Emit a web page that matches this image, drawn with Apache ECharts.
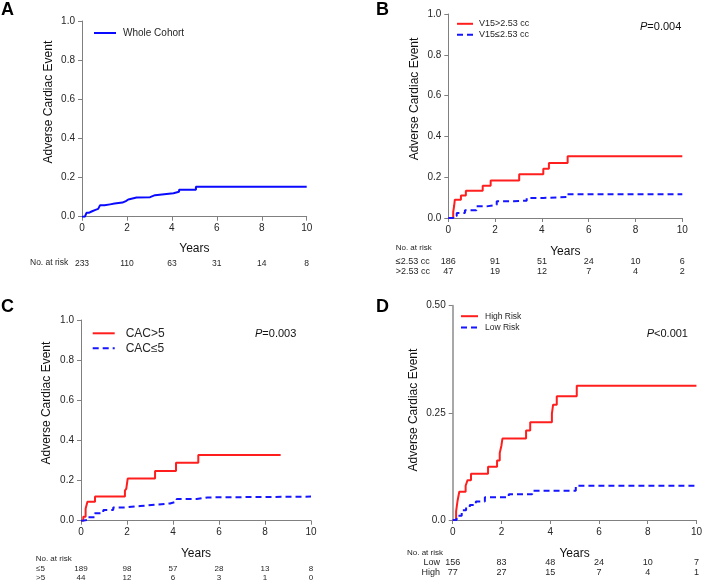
<!DOCTYPE html>
<html>
<head>
<meta charset="utf-8">
<script src="https://cdn.jsdelivr.net/npm/echarts@6/dist/echarts.min.js"></script>
<style>html,body{margin:0;padding:0;background:#fff;}#c{width:705px;height:582px;}</style>
</head>
<body>
<div id="c"></div>
<script>
// ---- data ----
const xTicks = [0, 2, 4, 6, 8, 10];
const wholeCohort = [[0,0],[0.13,0.008],[0.2,0.02],[0.3,0.028],[0.45,0.035],[0.6,0.04],[0.72,0.05],[0.8,0.058],[1.0,0.063],[1.25,0.067],[1.45,0.072],[1.8,0.08],[1.95,0.088],[2.06,0.098],[2.43,0.1],[3.03,0.11],[3.25,0.12],[4.07,0.127],[4.32,0.138],[5.07,0.153],[10,0.153]];
const v15High = [[0,0],[0.21,0.03],[0.25,0.06],[0.28,0.09],[0.54,0.11],[0.75,0.134],[1.47,0.158],[1.81,0.184],[3.03,0.214],[4.06,0.241],[4.3,0.27],[5.1,0.303],[10,0.303]];
const v15Low = [[0,0],[0.21,0.01],[0.36,0.024],[0.71,0.038],[1.2,0.057],[1.64,0.065],[2.07,0.082],[2.78,0.085],[3.35,0.098],[4.06,0.103],[5.06,0.117],[10,0.117]];
const cacHigh = [[0,0],[0.1,0.02],[0.2,0.06],[0.28,0.095],[0.61,0.12],[1.91,0.15],[1.97,0.16],[2.03,0.21],[3.22,0.248],[4.13,0.289],[5.1,0.327],[8.68,0.327]];
const cacLow = [[0,0],[0.1,0.005],[0.3,0.017],[0.6,0.037],[0.97,0.053],[1.4,0.066],[1.9,0.073],[2.57,0.078],[3.07,0.086],[3.87,0.095],[4.16,0.108],[5.03,0.116],[5.5,0.12],[10,0.12]];
const riskHigh = [[0,0],[0.14,0.02],[0.2,0.045],[0.27,0.066],[0.53,0.08],[0.61,0.093],[0.75,0.108],[1.45,0.124],[1.82,0.139],[1.93,0.156],[2.0,0.174],[2.04,0.19],[3.01,0.209],[3.18,0.228],[4.07,0.248],[4.12,0.269],[4.27,0.289],[5.09,0.313],[10,0.313]];
const riskLow = [[0,0],[0.16,0.01],[0.37,0.023],[0.55,0.03],[0.7,0.035],[0.95,0.043],[1.32,0.053],[2.3,0.06],[3.26,0.068],[5.05,0.08],[10,0.08]];

const atRiskA = [233, 110, 63, 31, 14, 8];
const atRiskB1 = [186, 91, 51, 24, 10, 6];
const atRiskB2 = [47, 19, 12, 7, 4, 2];
const atRiskC1 = [189, 98, 57, 28, 13, 8];
const atRiskC2 = [44, 12, 6, 3, 1, 0];
const atRiskD1 = [156, 83, 48, 24, 10, 7];
const atRiskD2 = [77, 27, 15, 7, 4, 1];

const FONT = 'Liberation Sans, Arial, sans-serif';
const RED = '#ff1e1e', BLUE = '#1515ff', AXC = '#808080', TXT = '#262626';

const chart = echarts.init(document.getElementById('c'), null, {renderer: 'canvas'});

const grids = [
  {left: 82, top: 21, width: 224.7, height: 195.7},
  {left: 448.3, top: 14, width: 234, height: 204},
  {left: 81, top: 320, width: 230, height: 200.7},
  {left: 452.7, top: 305.7, width: 245.6, height: 214.3}
];

function mainX(gi, gap) {
  return {
    type: 'value', gridIndex: gi, min: 0, max: 10, interval: 2,
    axisLine: {show: true, lineStyle: {color: AXC, width: 1}},
    axisTick: {show: true, length: 4, lineStyle: {color: AXC}},
    splitLine: {show: false},
    axisLabel: {fontSize: 10, fontFamily: FONT, color: TXT, margin: 7},
    name: 'Years', nameLocation: 'middle', nameGap: gap,
    nameTextStyle: {fontSize: 12, fontFamily: FONT, color: '#111'}
  };
}
function riskX(gi, arr, offset, fs) {
  return {
    type: 'value', gridIndex: gi, min: 0, max: 10, interval: 2, position: 'bottom', offset: offset,
    axisLine: {show: false}, axisTick: {show: false}, splitLine: {show: false},
    axisLabel: {fontSize: fs, fontFamily: FONT, color: TXT, margin: 0,
      formatter: v => String(arr[Math.round(v / 2)])}
  };
}
function mainY(gi, max, interval, gap, shift, fmt, axw, axc) {
  return {
    type: 'value', gridIndex: gi, min: 0, max: max, interval: interval,
    axisLine: {show: true, lineStyle: {color: axc || AXC, width: axw || 1}},
    axisTick: {show: true, length: 4, lineStyle: {color: AXC}},
    splitLine: {show: false},
    axisLabel: {fontSize: 10, fontFamily: FONT, color: TXT, margin: 7, formatter: fmt},
    name: 'Adverse Cardiac Event', nameLocation: 'middle', nameGap: gap,
    nameTextStyle: {fontSize: 12, fontFamily: FONT, color: '#111', padding: [0, 0, 0, shift * 2]}
  };
}
const f1 = v => v.toFixed(1);
const fD = v => v === 0 ? '0.0' : v.toFixed(2);

function km(name, data, xi, yi, color, dashed) {
  return {
    type: 'line', name: name, data: data, step: 'end', xAxisIndex: xi, yAxisIndex: yi,
    symbol: 'none', showSymbol: false, color: color,
    lineStyle: {color: color, width: 2, type: dashed ? [6, 4] : 'solid'},
    animation: false, silent: true
  };
}

function txt(x, y, text, fs, opts) {
  opts = opts || {};
  return {
    type: 'text', x: x, y: y, silent: true,
    style: Object.assign({text: text, fontSize: fs, fontFamily: FONT, fill: TXT,
      verticalAlign: 'middle', align: 'left'}, opts)
  };
}
function pval(x, y, rest) {
  return {
    type: 'text', x: x, y: y, silent: true,
    style: {text: '{i|P}' + rest, fontSize: 11, fontFamily: FONT, fill: '#111', verticalAlign: 'middle',
      rich: {i: {fontStyle: 'italic', fontSize: 11, fontFamily: FONT, fill: '#111'}}}
  };
}
const hideSym = {color: 'rgba(0,0,0,0)', borderWidth: 0, opacity: 0};

const option = {
  backgroundColor: '#fff',
  animation: false,
  grid: grids,
  xAxis: [
    mainX(0, 26), mainX(1, 28), mainX(2, 27), mainX(3, 28),
    riskX(0, atRiskA, 42, 8.5),
    riskX(1, atRiskB1, 39, 9), riskX(1, atRiskB2, 49, 9),
    riskX(2, atRiskC1, 43.6, 8), riskX(2, atRiskC2, 52.6, 8),
    riskX(3, atRiskD1, 38.2, 9), riskX(3, atRiskD2, 48.2, 9)
  ],
  yAxis: [
    mainY(0, 1, 0.2, 27, 16.7, f1),
    mainY(1, 1, 0.2, 27.3, 17, f1),
    mainY(2, 1, 0.2, 28.3, 17.3, f1),
    mainY(3, 0.5, 0.25, 33.4, 2.8, fD, 2, '#a8a8a8')
  ],
  legend: [
    {left: 93, top: 28, padding: 0, orient: 'vertical', itemWidth: 22, itemHeight: 10, itemStyle: hideSym,
     data: ['Whole Cohort'], textStyle: {fontSize: 10, fontFamily: FONT, color: TXT, padding: [0, 0, 0, 2]}},
    {left: 456, top: 19.3, padding: 0, orient: 'vertical', itemWidth: 16, itemHeight: 8, itemGap: 2, itemStyle: hideSym,
     data: ['V15>2.53 cc', 'V15≤2.53 cc'], textStyle: {fontSize: 9, fontFamily: FONT, color: TXT, padding: [0, 0, 0, 1]}},
    {left: 91.7, top: 327.3, padding: 0, orient: 'vertical', itemWidth: 22, itemHeight: 12, itemGap: 3, itemStyle: hideSym,
     data: ['CAC>5', 'CAC≤5'], textStyle: {fontSize: 12, fontFamily: FONT, color: TXT, padding: [0, 0, 0, 6]}},
    {left: 460, top: 311.7, padding: 0, orient: 'vertical', itemWidth: 17, itemHeight: 8, itemGap: 2.3, itemStyle: hideSym,
     data: ['High Risk', 'Low Risk'], textStyle: {fontSize: 8.5, fontFamily: FONT, color: TXT, padding: [0, 0, 0, 2]}}
  ],
  series: [
    km('Whole Cohort', wholeCohort, 0, 0, '#0a0aff', false),
    km('V15>2.53 cc', v15High, 1, 1, RED, false),
    km('V15≤2.53 cc', v15Low, 1, 1, BLUE, true),
    km('CAC>5', cacHigh, 2, 2, RED, false),
    km('CAC≤5', cacLow, 2, 2, BLUE, true),
    km('High Risk', riskHigh, 3, 3, RED, false),
    km('Low Risk', riskLow, 3, 3, BLUE, true)
  ],
  graphic: [
    txt(1, 10, 'A', 18, {fontWeight: 'bold', fill: '#000'}),
    txt(376, 10, 'B', 18, {fontWeight: 'bold', fill: '#000'}),
    txt(1, 307, 'C', 18, {fontWeight: 'bold', fill: '#000'}),
    txt(376, 307, 'D', 18, {fontWeight: 'bold', fill: '#000'}),
    txt(30, 263, 'No. at risk', 8.5),
    txt(395.7, 248, 'No. at risk', 8),
    txt(395.7, 261.7, '≤2.53 cc', 9),
    txt(395.7, 271.7, '>2.53 cc', 9),
    txt(35.7, 559, 'No. at risk', 8),
    txt(36, 568.3, '≤5', 8),
    txt(36, 577.3, '>5', 8),
    txt(407, 553, 'No. at risk', 8),
    txt(440, 562.7, 'Low', 9, {align: 'right'}),
    txt(440, 572.7, 'High', 9, {align: 'right'}),
    pval(640, 26.7, '=0.004'),
    pval(255, 334, '=0.003'),
    pval(646.7, 334, '<0.001')
  ]
};
chart.setOption(option);
</script>
</body>
</html>
